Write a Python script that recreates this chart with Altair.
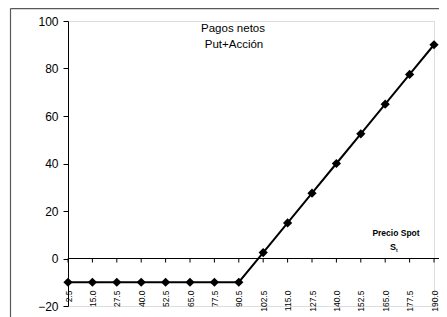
import altair as alt
import pandas as pd

# Data
precios = ["2.5", "15.0", "27.5", "40.0", "52.5", "65.0", "77.5", "90.5",
           "102.5", "115.0", "127.5", "140.0", "152.5", "165.0", "177.5", "190.0"]
pagos = [-10, -10, -10, -10, -10, -10, -10, -10,
         2.5, 15, 27.5, 40, 52.5, 65, 77.5, 90]
y_ticks = [-20, 0, 20, 40, 60, 80, 100]

df = pd.DataFrame({"precio": precios, "pago": pagos})
one = pd.DataFrame({"k": [0]})

FONT = "Liberation Sans"

x_scale = alt.Scale(type="point", padding=0)
y_scale = alt.Scale(domain=[-20, 100], nice=False, zero=False)
x_axis = alt.Axis(title=None, labelAngle=270, labelFontSize=8.5, labelFont=FONT,
                  ticks=False, domain=False, offset=-16, labelPadding=0,
                  labelOverlap=False, labelColor="black", grid=False)
y_axis = alt.Axis(title=None, values=y_ticks, grid=False, tickSize=5,
                  labelPadding=5, labelFontSize=12, labelFont=FONT,
                  labelColor="black", domainColor="black", tickColor="black")

line = alt.Chart(df).mark_line(
    color="black", strokeWidth=2,
    point=alt.OverlayMarkDef(shape="diamond", size=85, filled=True, color="black", opacity=1),
).encode(
    x=alt.X("precio:N", sort=None, scale=x_scale, axis=x_axis),
    y=alt.Y("pago:Q", scale=y_scale, axis=y_axis),
)

# Outer chart-area frame (left and top edges; the others lie outside the picture)
frame_left = alt.Chart(one).mark_rule(color="#5a5a5a", strokeWidth=1.2).encode(
    x=alt.value(-57.5), y=alt.value(-12.4), y2=alt.value(400)
)
frame_top = alt.Chart(one).mark_rule(color="#5a5a5a", strokeWidth=1.2).encode(
    x=alt.value(-57.5), x2=alt.value(400), y=alt.value(-12.4)
)

# Horizontal category axis line crossing at y = 0 (runs to the right edge)
zero_rule = alt.Chart(one).mark_rule(color="black", strokeWidth=1).encode(
    x=alt.value(0), x2=alt.value(400),
    y=alt.Y("z:Q", scale=y_scale, axis=y_axis)
).transform_calculate(z="0")

ticks = alt.Chart(df).mark_rule(color="black", strokeWidth=1).encode(
    x=alt.X("precio:N", sort=None, scale=x_scale, axis=x_axis),
    y=alt.Y("z:Q", scale=y_scale, axis=y_axis),
    y2="z2:Q",
).transform_calculate(z="0", z2="-1.7")

title1 = alt.Chart(one).mark_text(fontSize=11.5, font=FONT, color="black",
                                  baseline="middle", align="center").encode(
    x=alt.value(165), y=alt.value(7.5), text=alt.value("Pagos netos"))
title2 = alt.Chart(one).mark_text(fontSize=11.5, font=FONT, color="black",
                                  baseline="middle", align="center").encode(
    x=alt.value(166), y=alt.value(23.5), text=alt.value("Put+Acción"))

lab1 = alt.Chart(one).mark_text(fontSize=8.5, font=FONT, fontWeight="bold", color="black",
                                baseline="middle", align="center").encode(
    x=alt.value(328), y=alt.value(212), text=alt.value("Precio Spot"))
lab2 = alt.Chart(one).mark_text(fontSize=9, font=FONT, fontWeight="bold", color="black",
                                baseline="middle", align="center").encode(
    x=alt.value(325), y=alt.value(226), text=alt.value("S"))
lab3 = alt.Chart(one).mark_text(fontSize=5, font=FONT, fontWeight="bold", color="black",
                                baseline="middle", align="left").encode(
    x=alt.value(328), y=alt.value(229), text=alt.value("t"))

chart = alt.layer(line, frame_left, frame_top, zero_rule, ticks,
                  title1, title2, lab1, lab2, lab3).properties(
    width=366, height=285,
    autosize=alt.AutoSizeParams(type="none"),
    padding={"left": 60, "top": 13, "right": 5, "bottom": 11},
    background="white",
).configure_view(stroke="transparent", strokeWidth=0).configure(font=FONT)

chart.save("out.html", embed_options={"renderer": "svg", "actions": False})
